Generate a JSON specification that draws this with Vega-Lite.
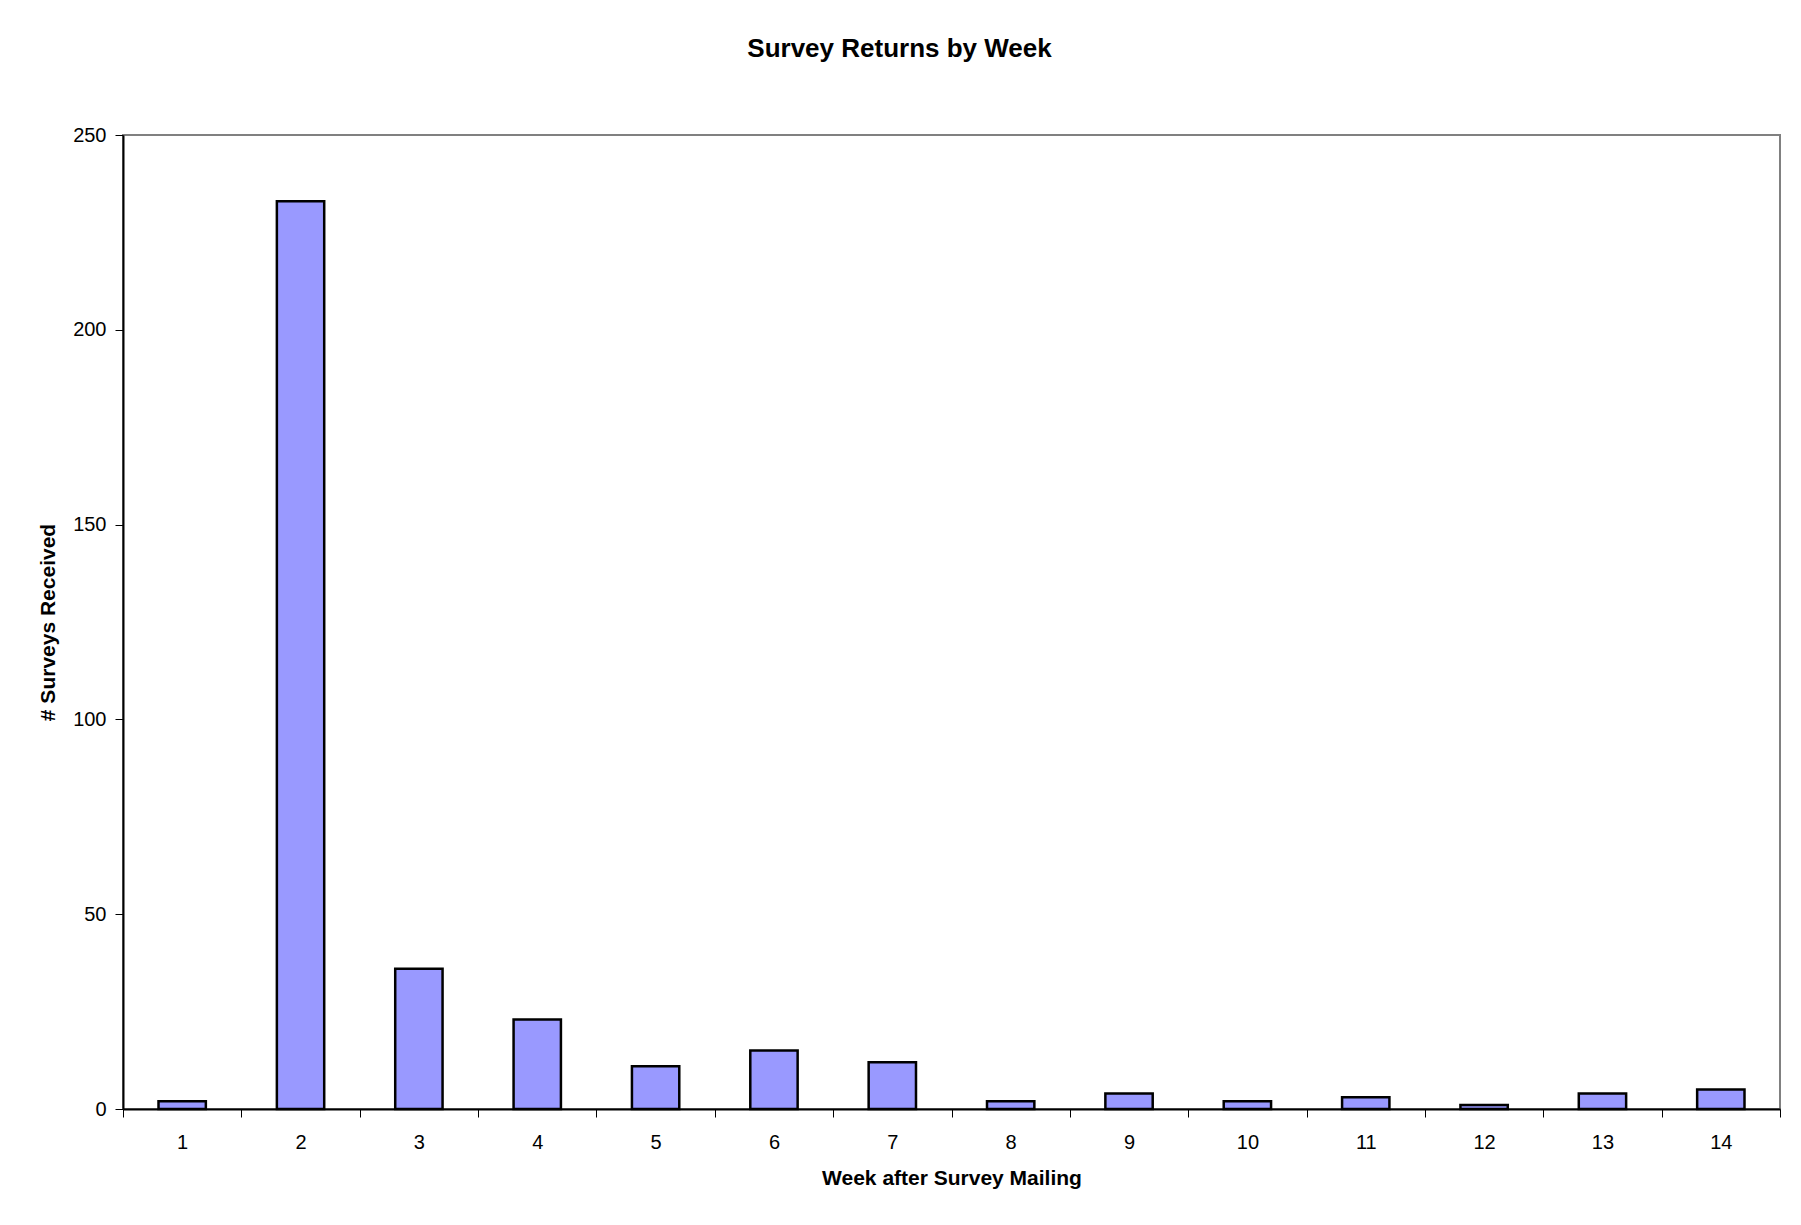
{
  "$schema": "https://vega.github.io/schema/vega-lite/v6.json",
  "width": 1657,
  "height": 974,
  "autosize": {"type": "none"},
  "padding": {"left": 123, "top": 135, "right": 21, "bottom": 116},
  "background": "white",
  "title": {
    "text": "Survey Returns by Week",
    "font": "Liberation Sans",
    "fontSize": 26,
    "fontWeight": "bold",
    "color": "black",
    "anchor": "middle",
    "dx": -52,
    "offset": 63
  },
  "data": {
    "values": [
      {"week": "1", "count": 2},
      {"week": "2", "count": 233},
      {"week": "3", "count": 36},
      {"week": "4", "count": 23},
      {"week": "5", "count": 11},
      {"week": "6", "count": 15},
      {"week": "7", "count": 12},
      {"week": "8", "count": 2},
      {"week": "9", "count": 4},
      {"week": "10", "count": 2},
      {"week": "11", "count": 3},
      {"week": "12", "count": 1},
      {"week": "13", "count": 4},
      {"week": "14", "count": 5}
    ]
  },
  "mark": {"type": "bar", "fill": "#9999FF", "stroke": "black", "strokeWidth": 2.5, "width": {"band": 0.4}},
  "encoding": {
    "x": {
      "field": "week",
      "type": "ordinal",
      "sort": null,
      "scale": {"paddingInner": 0, "paddingOuter": 0},
      "axis": {
        "title": "Week after Survey Mailing",
        "labelAngle": 0,
        "tickBand": "extent",
        "tickSize": 8,
        "tickColor": "black",
        "domainColor": "black",
        "domainWidth": 2,
        "labelPadding": 15,
        "titlePadding": 15
      }
    },
    "y": {
      "field": "count",
      "type": "quantitative",
      "scale": {"domain": [0, 250], "nice": false},
      "axis": {
        "title": "# Surveys Received",
        "values": [0, 50, 100, 150, 200, 250],
        "grid": false,
        "tickSize": 8,
        "tickColor": "black",
        "domainColor": "black",
        "domainWidth": 2,
        "labelPadding": 9,
        "titlePadding": 14
      }
    }
  },
  "config": {
    "view": {"stroke": "#808080", "strokeWidth": 2},
    "axis": {
      "labelFont": "Liberation Sans",
      "labelFontSize": 20,
      "labelColor": "black",
      "titleFont": "Liberation Sans",
      "titleFontSize": 21,
      "titleFontWeight": "bold",
      "titleColor": "black"
    }
  }
}
